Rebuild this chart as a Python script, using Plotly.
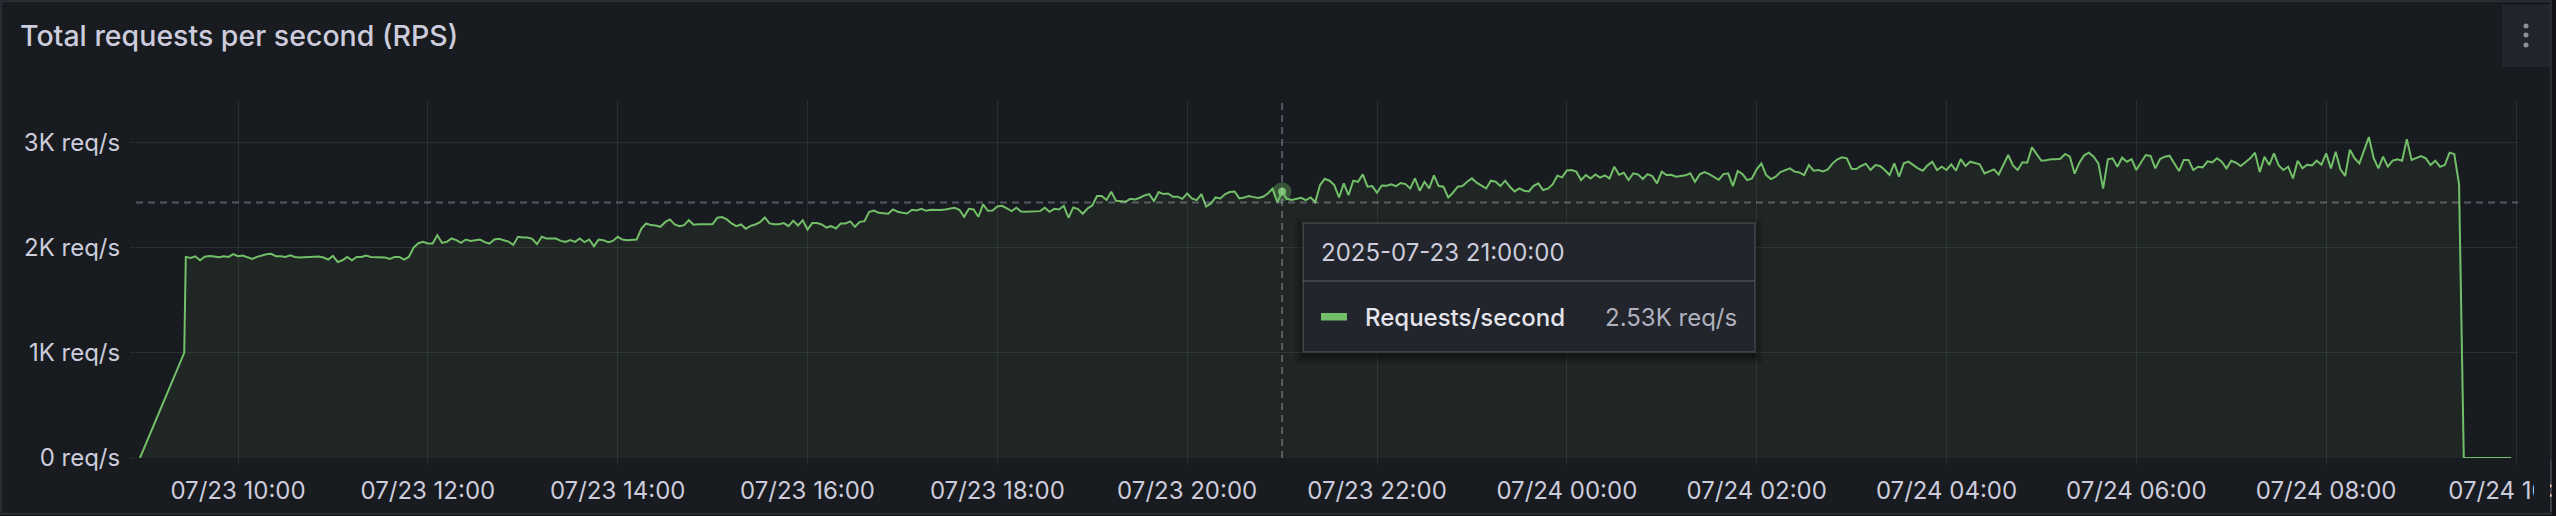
import pandas as pd
import plotly.graph_objects as go

# ---------------- data ----------------
TITLE = "Total requests per second (RPS)"
SERIES_NAME = "Requests/second"
UNIT = "req/s"

# ramp-up before the regular 3-minute samples
ramp_times = ["2025-07-23 08:58:00", "2025-07-23 09:26:00"]
ramp_rps = [0, 1000]

# regular samples every 3 minutes starting 07/23 09:27
sample_start = "2025-07-23 09:27:00"
sample_step = "3min"

rps_23_09 = [1911, 1900, 1917, 1879, 1912, 1920, 1914, 1908, 1917, 1911, 1938]
rps_23_10 = [1917, 1924, 1911, 1892, 1911, 1924, 1937, 1940, 1917, 1917,
             1911, 1927, 1911, 1905, 1908, 1911, 1914, 1914, 1905, 1886]
rps_23_11 = [1920, 1863, 1879, 1911, 1879, 1911, 1911, 1924, 1911, 1908,
             1911, 1905, 1892, 1911, 1911, 1886, 1911, 2000, 2041, 2054]
rps_23_12 = [2038, 2038, 2117, 2044, 2054, 2086, 2070, 2044, 2076, 2063,
             2070, 2076, 2051, 2038, 2076, 2083, 2070, 2057, 2025, 2102]
rps_23_13 = [2095, 2095, 2083, 2032, 2102, 2086, 2086, 2086, 2063, 2054,
             2070, 2054, 2086, 2051, 2076, 2013, 2076, 2070, 2051, 2063]
rps_23_14 = [2102, 2076, 2070, 2070, 2076, 2181, 2229, 2213, 2210, 2197,
             2241, 2267, 2219, 2203, 2213, 2260, 2216, 2222, 2222, 2229]
rps_23_15 = [2222, 2283, 2289, 2267, 2229, 2203, 2219, 2178, 2206, 2219,
             2241, 2286, 2229, 2222, 2222, 2232, 2203, 2255, 2210, 2260]
rps_23_16 = [2171, 2232, 2232, 2219, 2190, 2203, 2181, 2229, 2229, 2248,
             2197, 2244, 2251, 2340, 2352, 2330, 2324, 2321, 2362, 2340]
rps_23_17 = [2330, 2324, 2359, 2352, 2368, 2349, 2359, 2356, 2356, 2362,
             2371, 2378, 2359, 2292, 2368, 2362, 2292, 2410, 2349, 2352]
rps_23_18 = [2390, 2397, 2371, 2346, 2378, 2343, 2340, 2340, 2343, 2346,
             2378, 2340, 2368, 2362, 2397, 2283, 2381, 2365, 2321, 2371]
rps_23_19 = [2400, 2489, 2489, 2451, 2530, 2444, 2441, 2435, 2463, 2457,
             2473, 2495, 2508, 2441, 2527, 2508, 2514, 2483, 2483, 2463]
rps_23_20 = [2514, 2467, 2451, 2508, 2390, 2419, 2476, 2467, 2508, 2527,
             2533, 2467, 2476, 2489, 2479, 2470, 2483, 2514, 2560, 2430]
rps_23_21 = [2530, 2463, 2451, 2460, 2473, 2451, 2476, 2432, 2594, 2654,
             2635, 2594, 2476, 2610, 2498, 2635, 2625, 2695, 2578, 2584]
rps_23_22 = [2520, 2590, 2587, 2600, 2584, 2613, 2603, 2562, 2657, 2540,
             2625, 2562, 2686, 2584, 2578, 2476, 2521, 2578, 2584, 2625]
rps_23_23 = [2657, 2616, 2590, 2562, 2635, 2625, 2584, 2635, 2578, 2533,
             2562, 2540, 2533, 2587, 2610, 2546, 2559, 2600, 2683, 2667]
rps_24_00 = [2733, 2737, 2721, 2641, 2689, 2657, 2695, 2664, 2686, 2657,
             2768, 2692, 2711, 2641, 2705, 2695, 2651, 2698, 2679, 2610]
rps_24_01 = [2721, 2689, 2692, 2673, 2679, 2686, 2705, 2625, 2695, 2717,
             2698, 2673, 2644, 2698, 2705, 2584, 2727, 2698, 2641, 2657]
rps_24_02 = [2743, 2800, 2689, 2651, 2673, 2717, 2737, 2752, 2721, 2714,
             2689, 2784, 2730, 2737, 2724, 2743, 2800, 2838, 2857, 2848]
rps_24_03 = [2749, 2746, 2775, 2797, 2737, 2784, 2775, 2737, 2689, 2800,
             2673, 2800, 2816, 2784, 2752, 2730, 2781, 2816, 2737, 2768]
rps_24_04 = [2737, 2790, 2730, 2840, 2775, 2816, 2800, 2790, 2705, 2721,
             2743, 2695, 2781, 2879, 2781, 2737, 2810, 2806, 2952, 2886]
rps_24_05 = [2825, 2829, 2838, 2838, 2844, 2889, 2863, 2702, 2806, 2876,
             2902, 2863, 2800, 2560, 2838, 2848, 2768, 2854, 2816, 2841]
rps_24_06 = [2737, 2810, 2879, 2870, 2752, 2841, 2863, 2873, 2806, 2727,
             2832, 2832, 2737, 2768, 2762, 2819, 2810, 2848, 2816, 2752]
rps_24_07 = [2825, 2806, 2775, 2810, 2848, 2902, 2717, 2863, 2784, 2895,
             2781, 2737, 2768, 2657, 2825, 2752, 2787, 2781, 2825, 2787]
rps_24_08 = [2895, 2752, 2911, 2743, 2680, 2930, 2848, 2800, 2927, 3050,
             2851, 2752, 2863, 2768, 2825, 2838, 2825, 3030, 2832, 2851]
rps_24_09 = [2870, 2848, 2784, 2825, 2768, 2784, 2902, 2889, 2600, 0,
             0, 0, 0, 0, 0, 0, 0, 0, 0, 0]

x_tick_times = ["2025-07-23 10:00", "2025-07-23 12:00", "2025-07-23 14:00",
                "2025-07-23 16:00", "2025-07-23 18:00", "2025-07-23 20:00",
                "2025-07-23 22:00", "2025-07-24 00:00", "2025-07-24 02:00",
                "2025-07-24 04:00", "2025-07-24 06:00", "2025-07-24 08:00",
                "2025-07-24 10:00"]
x_tick_labels = ["07/23 10:00", "07/23 12:00", "07/23 14:00", "07/23 16:00",
                 "07/23 18:00", "07/23 20:00", "07/23 22:00", "07/24 00:00",
                 "07/24 02:00", "07/24 04:00", "07/24 06:00", "07/24 08:00",
                 "07/24 10:00"]
y_tick_vals = [0, 1000, 2000, 3000]
y_tick_labels = ["0 req/s", "1K req/s", "2K req/s", "3K req/s"]

hover_time = "2025-07-23 21:00:00"
cursor_rps = 2427  # mouse position (horizontal crosshair)

x_range = ["2025-07-23 08:55:31", "2025-07-24 10:01:16"]
y_range = [0, 3402]

# ---------------- build series ----------------
sample_rps = (rps_23_09 + rps_23_10 + rps_23_11 + rps_23_12 + rps_23_13 +
              rps_23_14 + rps_23_15 + rps_23_16 + rps_23_17 + rps_23_18 +
              rps_23_19 + rps_23_20 + rps_23_21 + rps_23_22 + rps_23_23 +
              rps_24_00 + rps_24_01 + rps_24_02 + rps_24_03 + rps_24_04 +
              rps_24_05 + rps_24_06 + rps_24_07 + rps_24_08 + rps_24_09)
sample_times = pd.date_range(sample_start, periods=len(sample_rps), freq=sample_step)
times = list(pd.to_datetime(ramp_times)) + list(sample_times)
values = ramp_rps + sample_rps

df = pd.DataFrame({"time": times, "rps": values})
hover_row = df[df["time"] == pd.Timestamp(hover_time)].iloc[0]
hover_val = hover_row["rps"]
hover_text = f"{hover_val/1000:.2f}K {UNIT}"

# ---------------- layout helpers ----------------
W, H = 2556, 516
ML, MR, MT, MB = 136, 38, 100, 58
PW, PH = W - ML - MR, H - MT - MB


def px(x):
    return (x - ML) / PW


def py(y):
    return (H - MB - y) / PH


GREEN = "#73BF69"
TEXT = "#ccccdc"
PANEL = "#181b1f"
PAGE = "#111217"
BORDER = "rgba(204,204,220,0.12)"
FONT = "Inter"

fig = go.Figure()
fig.add_trace(go.Scatter(
    x=df["time"], y=df["rps"], mode="lines", name=SERIES_NAME,
    line=dict(color=GREEN, width=2), fill="tozeroy",
    fillcolor="rgba(115,191,105,0.075)", hoverinfo="skip", showlegend=False))
fig.add_trace(go.Scatter(
    x=[hover_row["time"]], y=[hover_val], mode="markers",
    marker=dict(size=19, color="rgba(115,191,105,0.35)"),
    hoverinfo="skip", showlegend=False))
fig.add_trace(go.Scatter(
    x=[hover_row["time"]], y=[hover_val], mode="markers",
    marker=dict(size=8, color=GREEN),
    hoverinfo="skip", showlegend=False))

shapes = []
# panel background + border
shapes.append(dict(type="rect", xref="paper", yref="paper", layer="below",
                   x0=px(1), x1=px(2551), y0=py(514), y1=py(1),
                   fillcolor=PANEL, line=dict(color=BORDER, width=2)))
# clip region for the last tick label (panel content ends before the border)
shapes.append(dict(type="rect", xref="paper", yref="paper", layer="above",
                   x0=px(2534), x1=px(2550), y0=py(512), y1=py(462),
                   fillcolor=PANEL, line=dict(width=0)))
shapes.append(dict(type="rect", xref="paper", yref="paper", layer="above",
                   x0=px(2552), x1=px(2560), y0=py(520), y1=py(-4),
                   fillcolor=PAGE, line=dict(width=0)))
shapes.append(dict(type="line", xref="paper", yref="paper", layer="above",
                   x0=px(2551), x1=px(2551), y0=py(512), y1=py(460),
                   line=dict(color=BORDER, width=2)))
# menu button
shapes.append(dict(type="rect", xref="paper", yref="paper", layer="above",
                   x0=px(2502), x1=px(2550), y0=py(67), y1=py(5),
                   fillcolor="#22252b", line=dict(width=0)))
for dy in (26, 35, 45):
    shapes.append(dict(type="circle", xref="paper", yref="paper", layer="above",
                       x0=px(2523.5), x1=px(2528.5), y0=py(dy + 2.5), y1=py(dy - 2.5),
                       fillcolor="#8e8f99", line=dict(width=0)))
# crosshair
shapes.append(dict(type="line", xref="x", yref="paper", x0=hover_row["time"],
                   x1=hover_row["time"], y0=0, y1=1, layer="above",
                   line=dict(color="rgba(204,204,220,0.35)", width=2, dash="7px,5px")))
shapes.append(dict(type="line", xref="paper", yref="y", x0=0, x1=1,
                   y0=cursor_rps, y1=cursor_rps, layer="above",
                   line=dict(color="rgba(204,204,220,0.35)", width=2, dash="7px,5px")))
# tooltip shadow + box
for i, a in enumerate((0.10, 0.14, 0.18)):
    g = 8 - 3 * i
    shapes.append(dict(type="rect", xref="paper", yref="paper", layer="above",
                       x0=px(1303 - g), x1=px(1755 + g), y0=py(352 + g + 4), y1=py(223 - g + 4),
                       fillcolor=f"rgba(0,0,0,{a})", line=dict(width=0)))
shapes.append(dict(type="rect", xref="paper", yref="paper", layer="above",
                   x0=px(1303), x1=px(1755), y0=py(352), y1=py(223),
                   fillcolor="#22252b", line=dict(color="rgba(204,204,220,0.16)", width=2)))
shapes.append(dict(type="line", xref="paper", yref="paper", layer="above",
                   x0=px(1303), x1=px(1755), y0=py(281), y1=py(281),
                   line=dict(color="rgba(204,204,220,0.16)", width=2)))
shapes.append(dict(type="rect", xref="paper", yref="paper", layer="above",
                   x0=px(1321), x1=px(1347), y0=py(320.5), y1=py(313),
                   fillcolor=GREEN, line=dict(width=0)))

annotations = [
    dict(text=hover_row["time"].strftime("%Y-%m-%d %H:%M:%S"), xref="paper", yref="paper",
         x=px(1319), y=py(252), xanchor="left", yanchor="middle", showarrow=False,
         font=dict(family=FONT, size=24, color=TEXT)),
    dict(text=SERIES_NAME, xref="paper", yref="paper",
         x=px(1363), y=py(317), xanchor="left", yanchor="middle", showarrow=False,
         font=dict(family=FONT, size=24, color="#e4e4ec", weight=500)),
    dict(text=hover_text, xref="paper", yref="paper",
         x=px(1739), y=py(317), xanchor="right", yanchor="middle", showarrow=False,
         font=dict(family=FONT, size=24, color="rgba(204,204,220,0.85)")),
]

fig.update_layout(
    width=W, height=H,
    margin=dict(l=ML, r=MR, t=MT, b=MB, pad=0, autoexpand=False),
    paper_bgcolor=PAGE, plot_bgcolor="rgba(0,0,0,0)",
    font=dict(family=FONT, color=TEXT),
    title=dict(text=TITLE, x=20 / W, xanchor="left", xref="container",
               y=1 - 36 / H, yanchor="middle", yref="container",
               font=dict(family=FONT, size=28.5, color=TEXT, weight=500)),
    shapes=shapes, annotations=annotations, showlegend=False,
    xaxis=dict(type="date", range=x_range, tickvals=x_tick_times, ticktext=x_tick_labels,
               showgrid=True, gridcolor="rgba(204,204,220,0.10)", gridwidth=1,
               zeroline=False, showline=False, ticks="outside", ticklen=6,
               tickcolor="rgba(204,204,220,0.10)", tickfont=dict(family=FONT, size=24, color=TEXT),
               ticklabeloverflow="allow", ticklabelstandoff=5, fixedrange=True,
               automargin=False),
    yaxis=dict(range=y_range, tickvals=y_tick_vals, ticktext=y_tick_labels,
               showgrid=True, gridcolor="rgba(204,204,220,0.10)", gridwidth=1,
               zeroline=False, showline=False, ticks="outside", ticklen=4,
               tickcolor="rgba(204,204,220,0.10)", tickfont=dict(family=FONT, size=24, color=TEXT),
               ticklabelstandoff=6, fixedrange=True, automargin=False),
)

fig.write_html(
    "out.html",
    config={"displayModeBar": False},
    post_script="document.body.style.margin='0px';document.body.style.overflow='hidden';",
)
